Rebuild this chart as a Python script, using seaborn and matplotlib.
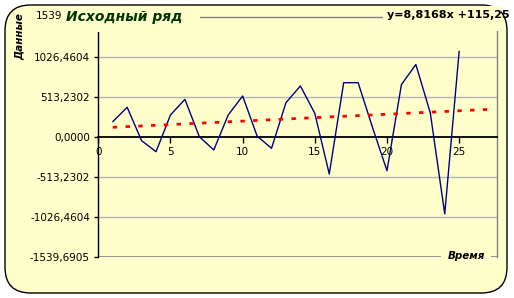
import numpy as np
import pandas as pd
import matplotlib
matplotlib.use("Agg")
import matplotlib.pyplot as plt
import seaborn as sns
from matplotlib.patches import FancyBboxPatch, Rectangle

# ---- data ----
periods = list(range(1, 26))
values = [196, 380, -47, -188, 282, 482, 4, -166, 282, 525, 13, -145, 439,
          653, 303, -474, 695, 695, 120, -432, 671, 928, 308, -984, 1098]
trend_slope = 8.8168
trend_intercept = 115.25
trend_range = [1, 27]
y_ticks = [-1539.6905, -1026.4604, -513.2302, 0.0, 513.2302, 1026.4604, 1539.6905]
y_tick_labels = ["-1539,6905", "-1026,4604", "-513,2302", "0,0000",
                 "513,2302", "1026,4604", ""]
top_tick_text = "1539"
x_ticks = [0, 5, 10, 15, 20, 25]
title = "Исходный ряд"
equation = "y=8,8168x +115,25"
x_label = "Время"
y_label = "Данные"

BG = "#FFFFCC"
W, H = 514, 298

sns.set_theme(style="white")
plt.rcParams["font.family"] = ["DejaVu Sans"]

fig = plt.figure(figsize=(W / 100, H / 100), dpi=100)
fig.patch.set_facecolor("white")

def fx(px):
    return px / W

def fy(py):
    return 1 - py / H

# rounded background
bg = FancyBboxPatch((fx(5), fy(293)), fx(502), 288 / H,
                    boxstyle="round,pad=0,rounding_size=0.05",
                    transform=fig.transFigure, facecolor=BG, edgecolor="black",
                    linewidth=1.0, zorder=-1, mutation_aspect=W / H)
fig.patches.append(bg)

ax = fig.add_axes([fx(98.3), fy(257.3), fx(496.7 - 98.3), (257.3 - 16.7) / H])
ax.set_facecolor("none")

df = pd.DataFrame({"t": periods, "v": values})
sns.lineplot(data=df, x="t", y="v", ax=ax, color="#000080", linewidth=1.0, zorder=3)

tx = np.array(trend_range, dtype=float)
trend_df = pd.DataFrame({"t": tx, "v": trend_intercept + trend_slope * tx})
sns.lineplot(data=trend_df, x="t", y="v", ax=ax, color="#FF0000", linewidth=2.0,
             linestyle=(0, (1.6, 3.0)), zorder=4)
for ln in ax.lines[-1:]:
    ln.set_dash_capstyle("butt")

ax.set_xlim(0, 27.6)
ax.set_ylim(y_ticks[0], y_ticks[-1])
ax.set_xticks(x_ticks)
ax.set_xticklabels([str(t) for t in x_ticks])
ax.set_yticks(y_ticks)
ax.set_yticklabels(y_tick_labels)
ax.set_xlabel("")
ax.set_ylabel("")

for yv in y_ticks[1:-1]:
    if yv != 0:
        ax.axhline(yv, color="#B4B4B4", linewidth=1.0, zorder=1)
ax.axhline(y_ticks[0], color="#808080", linewidth=1.2, zorder=1)

ax.spines["bottom"].set_position(("data", 0))
ax.spines["bottom"].set_color("black")
ax.spines["bottom"].set_linewidth(1.3)
ax.spines["left"].set_color("black")
ax.spines["left"].set_linewidth(1.0)
ax.spines["top"].set_color("#808080")
ax.spines["top"].set_linewidth(1.0)
ax.spines["right"].set_color("#808080")
ax.spines["right"].set_linewidth(1.0)
for s in ax.spines.values():
    s.set_zorder(2)

ax.tick_params(axis="y", direction="out", length=3, width=1, pad=3,
               labelsize=7.5, colors="black", left=True)
ax.tick_params(axis="x", direction="out", length=4, width=1, pad=3,
               labelsize=7.5, colors="black", bottom=True)
ax.grid(False)

# cover boxes (as in the reference, title/equation/label sit over the frame)
fig.patches.append(Rectangle((fx(63), fy(32)), fx(137), 26 / H, transform=fig.transFigure,
                             facecolor=BG, edgecolor="none", zorder=1))
fig.patches.append(Rectangle((fx(383), fy(31)), fx(118), 25 / H, transform=fig.transFigure,
                             facecolor=BG, edgecolor="none", zorder=1))
fig.patches.append(Rectangle((fx(441), fy(263)), fx(50), 13 / H, transform=fig.transFigure,
                             facecolor=BG, edgecolor="none", zorder=1))

fig.text(fx(36), fy(16), top_tick_text, fontsize=7.5, color="black",
         ha="left", va="center", zorder=3)
fig.text(fx(66), fy(17), title, fontsize=10, fontweight="bold", fontstyle="italic",
         color="#003300", ha="left", va="center", zorder=3)
fig.text(fx(387), fy(15), equation, fontsize=8, fontweight="bold",
         color="black", ha="left", va="center", zorder=3)
fig.text(fx(20), fy(13), y_label, fontsize=7.5, fontweight="bold", fontstyle="italic",
         rotation=90, color="black", ha="center", va="top", zorder=3)
fig.text(fx(466), fy(256), x_label, fontsize=7.5, fontweight="bold", fontstyle="italic",
         color="black", ha="center", va="center", zorder=3)

fig.savefig("out.png", dpi=100, facecolor=fig.get_facecolor())
